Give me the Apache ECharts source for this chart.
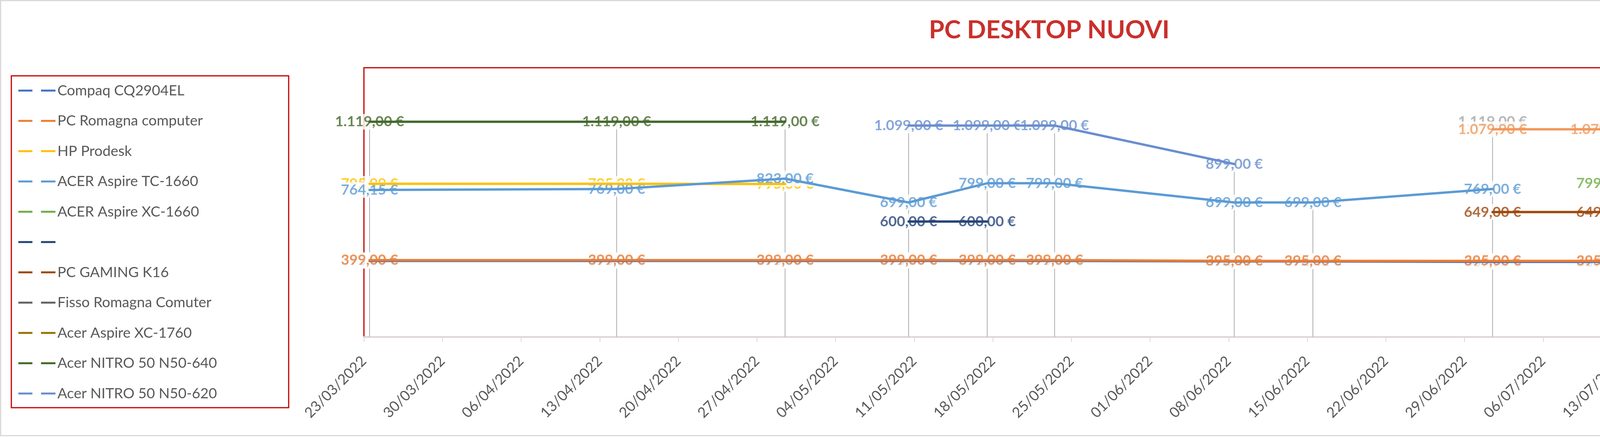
<!DOCTYPE html>
<html><head><meta charset="utf-8">
<script src="https://cdn.jsdelivr.net/npm/echarts@6/dist/echarts.min.js"></script>
<style>html,body{margin:0;padding:0;background:#fff}#c{width:5322px;height:1118px}</style>
</head><body><div id="c"></div>
<script>
// ---------- DATA ----------
const axisStartDate = '23/03/2022';
const axisEndDate = '20/08/2022';
const tickIntervalDays = 7;

const allDates = ['23/03/2022','14/04/2022','29/04/2022','10/05/2022','17/05/2022','23/05/2022','08/06/2022','15/06/2022','01/07/2022','11/07/2022','18/07/2022','26/07/2022','19/08/2022'];

const compaqDates = allDates;
const compaqValues = [395,395,395,395,395,395,392.41,392.41,389.90,389.90,389.50,389.90,399];

const romagnaDates = allDates;
const romagnaValues = [399,399,399,399,399,399,395,395,395,395,389.50,389.50,399];

const hpDates = ['23/03/2022','14/04/2022','29/04/2022'];
const hpValues = [795.99,795.99,795.00];

const acerTcDates = ['23/03/2022','14/04/2022','29/04/2022','10/05/2022','17/05/2022','23/05/2022','08/06/2022','15/06/2022','01/07/2022'];
const acerTcValues = [764.15,769,823,699,799,799,699,699,769];

const acerXcDates = ['11/07/2022','18/07/2022'];
const acerXcValues = [799,799];

const blankDates = ['10/05/2022','17/05/2022'];
const blankValues = [600,600];

const gamingDates = ['01/07/2022','11/07/2022'];
const gamingValues = [649,649];

const fissoDates = ['19/08/2022'];
const fissoValues = [549];

const xc1760Dates = ['19/08/2022'];
const xc1760Values = [749];

const nitro640Dates = ['23/03/2022','14/04/2022','29/04/2022'];
const nitro640Values = [1119,1119,1119];

const nitro620Dates = ['10/05/2022','17/05/2022','23/05/2022','08/06/2022'];
const nitro620Values = [1099,1099,1099,899];

const extraGrayDates = ['01/07/2022'];
const extraGrayValues = [1119];

const extraOrangeDates = ['01/07/2022','11/07/2022','18/07/2022','26/07/2022','19/08/2022'];
const extraOrangeValues = [1079.90,1079.90,1079.90,1079.90,1079.90];

const extraYellowDates = ['19/08/2022'];
const extraYellowValues = [1299];

// draw order (later on top), legend names, colours
const seriesDefs = [
  {name:'Compaq CQ2904EL', dates:compaqDates, values:compaqValues, color:'#4472C4', legend:true},
  {name:'PC Romagna computer', dates:romagnaDates, values:romagnaValues, color:'#ED7D31', legend:true},
  {name:'(grigio)', dates:extraGrayDates, values:extraGrayValues, color:'#A5A5A5', legend:false},
  {name:'HP Prodesk', dates:hpDates, values:hpValues, color:'#FFC000', legend:true},
  {name:'ACER Aspire TC-1660', dates:acerTcDates, values:acerTcValues, color:'#5B9BD5', legend:true},
  {name:'ACER Aspire XC-1660', dates:acerXcDates, values:acerXcValues, color:'#70AD47', legend:true},
  {name:' ', dates:blankDates, values:blankValues, color:'#264478', legend:true},
  {name:'PC GAMING K16', dates:gamingDates, values:gamingValues, color:'#9E480E', legend:true},
  {name:'Fisso Romagna Comuter', dates:fissoDates, values:fissoValues, color:'#636363', legend:true},
  {name:'Acer Aspire XC-1760', dates:xc1760Dates, values:xc1760Values, color:'#997300', legend:true},
  {name:'Acer NITRO 50 N50-640', dates:nitro640Dates, values:nitro640Values, color:'#43682B', legend:true},
  {name:'Acer NITRO 50 N50-620', dates:nitro620Dates, values:nitro620Values, color:'#698ED0', legend:true},
  {name:'(arancio)', dates:extraOrangeDates, values:extraOrangeValues, color:'#F1975A', legend:false},
  {name:'(giallo)', dates:extraYellowDates, values:extraYellowValues, color:'#FFCD33', legend:false, plain:true}
];

// ---------- HELPERS ----------
function parseDate(s){const p=s.split('/');return Date.UTC(+p[2],+p[1]-1,+p[0]);}
const t0 = parseDate(axisStartDate);
const axisMaxDays = (parseDate(axisEndDate)-t0)/86400000;
function dayPos(s){return (parseDate(s)-t0)/86400000 + 0.5;}
function fmtDate(v){const d=new Date(t0+Math.round(v)*86400000);
  const dd=String(d.getUTCDate()).padStart(2,'0'),mm=String(d.getUTCMonth()+1).padStart(2,'0');
  return dd+'/'+mm+'/'+d.getUTCFullYear();}
function eur(v){const s=v.toFixed(2).split('.');return s[0].replace(/\B(?=(\d{3})+(?!\d))/g,'.')+','+s[1]+' €';}

const FONT='Lato';
const series=[];
// drop lines: from highest point at each date down to the axis
const maxByDate={};
seriesDefs.forEach(d=>d.dates.forEach((dt,i)=>{maxByDate[dt]=Math.max(maxByDate[dt]||0,d.values[i]);}));
series.push({type:'bar',name:'drop',data:Object.keys(maxByDate).map(k=>[dayPos(k),maxByDate[k]]),
  barWidth:2,itemStyle:{color:'#ADADAD'},z:1,silent:true,animation:false,emphasis:{disabled:true}});
seriesDefs.forEach(d=>{
  const pts=d.dates.map((dt,i)=>[dayPos(dt),d.values[i]]);
  series.push({type:'scatter',name:d.name+'_lbl',data:pts,symbolSize:1,z:2,silent:true,clip:false,animation:false,
    itemStyle:{color:'rgba(0,0,0,0)'},emphasis:{disabled:true},
    label:{show:true,position:'inside',formatter:p=>d.plain?String(p.value[1]):eur(p.value[1]),
      color:d.color,fontFamily:FONT,fontWeight:'bold',fontSize:37,lineHeight:38,
      backgroundColor:d.plain?'transparent':'#ffffff',padding:[1,2]}});
  series.push({type:'line',name:d.name,data:pts,showSymbol:false,symbol:'none',z:3,silent:true,animation:false,
    lineStyle:{color:d.color,width:6,cap:'round',join:'round'},itemStyle:{color:d.color},emphasis:{disabled:true}});
});

const chart=echarts.init(document.getElementById('c'),null,{renderer:'canvas'});
chart.setOption({
  animation:false,
  backgroundColor:'#ffffff',
  title:{text:'PC DESKTOP NUOVI',left:2686,top:45,textAlign:'center',padding:0,
    textStyle:{color:'#C9302C',fontFamily:FONT,fontWeight:'bold',fontSize:64}},
  legend:{data:seriesDefs.filter(d=>d.legend).map(d=>d.name),orient:'vertical',left:47,top:211.7,padding:0,
    icon:'path://M0,0h36v5h-36z M58,0h37v5h-37z',itemWidth:95,itemHeight:40,itemGap:37.5,
    itemStyle:{borderWidth:0},selectedMode:false,
    textStyle:{fontFamily:FONT,fontSize:37,color:'#595959',lineHeight:40}},
  grid:{left:931.7,right:78,top:173.3,bottom:256.3,show:true,borderColor:'#C00000',borderWidth:3,
    backgroundColor:'transparent',containLabel:false,outerBoundsMode:'none'},
  xAxis:{type:'value',min:0,max:axisMaxDays,interval:tickIntervalDays,z:1,
    axisLine:{show:true,lineStyle:{color:'#D9D9D9',width:3}},
    axisTick:{show:true,length:13,lineStyle:{color:'#D9D9D9',width:2}},
    splitLine:{show:false},
    axisLabel:{rotate:45,margin:56,formatter:fmtDate,showMaxLabel:false,showMinLabel:true,
      fontFamily:FONT,fontSize:37,color:'#595959'}},
  yAxis:{type:'value',min:0,max:1400,show:false,splitLine:{show:false}},
  graphic:[
    {type:'rect',shape:{x:1.5,y:1.5,width:5319,height:1113},style:{fill:'none',stroke:'#D9D9D9',lineWidth:3},z:-1,silent:true},
    {type:'rect',shape:{x:29,y:194,width:710,height:849},style:{fill:'none',stroke:'#C00000',lineWidth:3},silent:true}
  ],
  series:series
});
</script></body></html>
